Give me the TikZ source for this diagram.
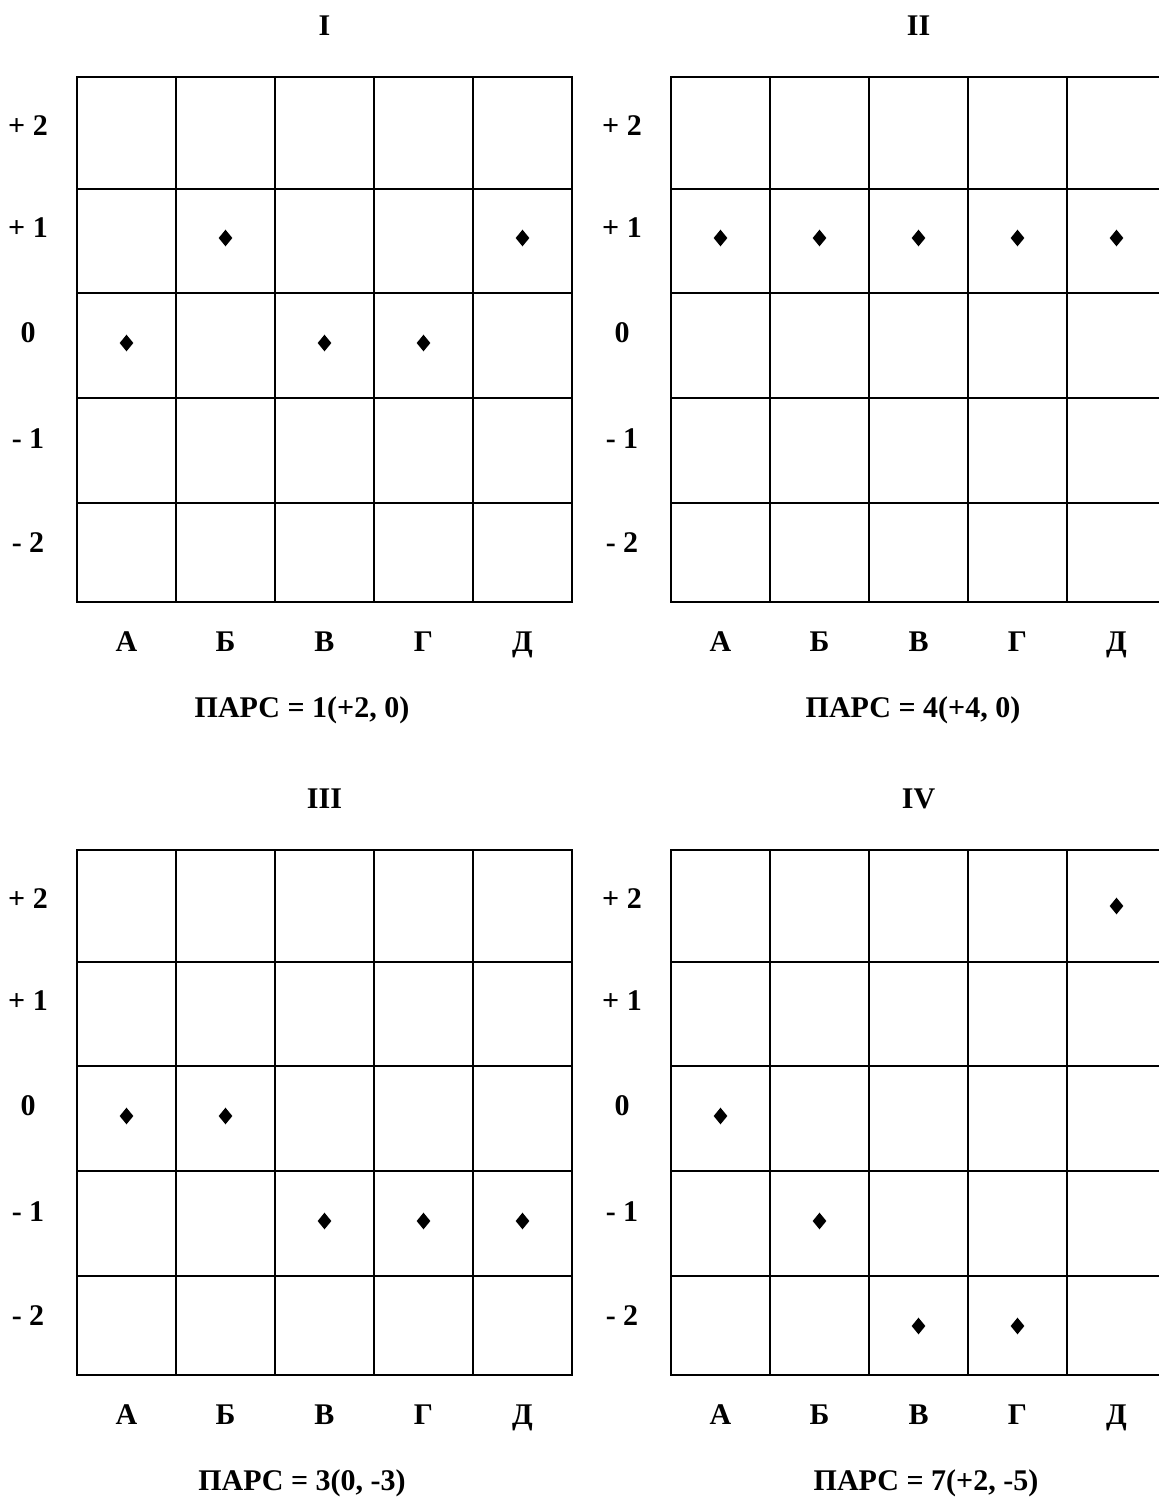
\documentclass[tikz,border=0pt]{standalone}
\usepackage{fontspec}
\setmainfont{Liberation Serif}
\usetikzlibrary{shapes.geometric}

\begin{document}
\begin{tikzpicture}[
    x=0.5pt, y=-0.5pt,
    lbl/.style={font=\fontsize{15}{18}\selectfont\bfseries, inner sep=0pt, anchor=base},
    gridline/.style={line width=1pt, black, line cap=rect},
    dot/.style={diamond, fill=black, inner sep=0pt, minimum width=7pt, minimum height=8.5pt}
  ]
  \useasboundingbox (0,0) rectangle (1159,1501);
  \clip (0,0) rectangle (1159,1501);
  % four panels: offset, title, caption, caption x, marked cells (column/row from top)
  \foreach \px/\py/\ttl/\pars/\parsx/\pts [count=\k] in {
      77/77/I/{ПАРС = 1(+2, 0)}/225/{0/2,1/1,2/2,3/2,4/1},
      671/77/II/{ПАРС = 4(+4, 0)}/242/{0/1,1/1,2/1,3/1,4/1},
      77/850/III/{ПАРС = 3(0, -3)}/225/{0/2,1/2,2/3,3/3,4/3},
      671/850/IV/{ПАРС = 7(+2, -5)}/255/{0/2,1/3,2/4,3/4,4/0}}
  {
    \begin{scope}[shift={(\px,\py)}]
      % grid
      \draw[gridline] (0,0) rectangle (495,525);
      \foreach \gx in {99,198,297,396} \draw[gridline] (\gx,0) -- (\gx,525);
      \foreach \gy in {112,216,321,426} \draw[gridline] (0,\gy) -- (495,\gy);
      % labels
      \node[lbl] (title\k) at (247.5,-42) {\ttl};
      \foreach \rl/\ry [count=\j] in {+ 2/58, + 1/160, 0/265, - 1/371, - 2/475}
        \node[lbl] (row\k-\j) at (-49,\ry) {\rl};
      \foreach \cl [count=\i from 0] in {А,Б,В,Г,Д}
        \node[lbl] (col\k-\i) at (49.5+99*\i,574) {\cl};
      \node[lbl] (pars\k) at (\parsx,640) {\pars};
      % marks
      \foreach \c/\r in \pts
        \node[dot] (dot\k-\c) at (49.5+99*\c,56+105*\r) {};
    \end{scope}
  }
\end{tikzpicture}
\end{document}
